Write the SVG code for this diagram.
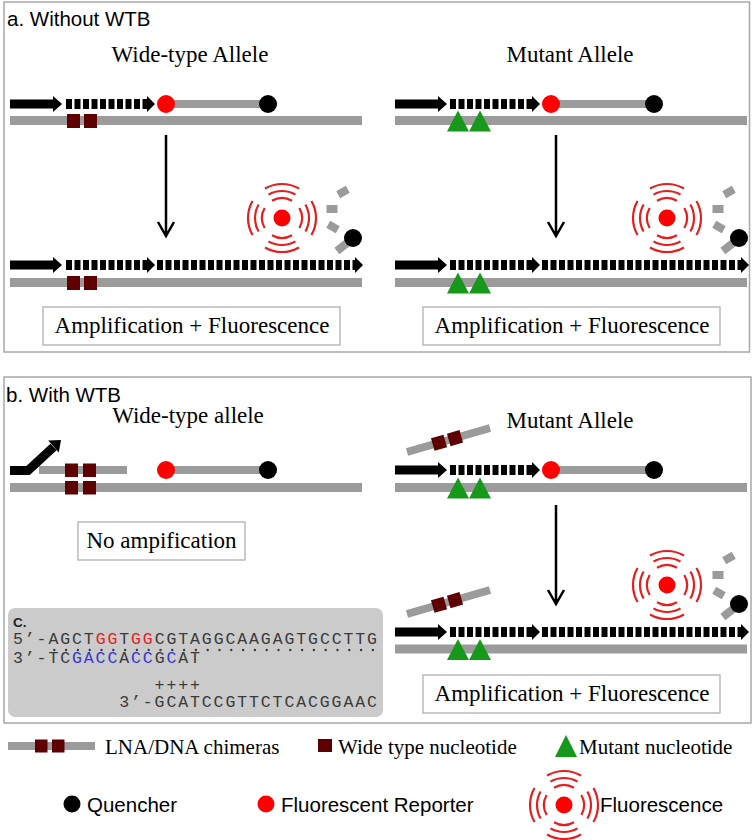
<svg xmlns="http://www.w3.org/2000/svg" xmlns:xlink="http://www.w3.org/1999/xlink" width="754" height="840" viewBox="0 0 754 840">
<style>
.panel{fill:#fff;stroke:#a8a8a8;stroke-width:1.5}
.box{fill:#fff;stroke:#a8a8a8;stroke-width:1.2}
.tmpl{stroke:#9b9b9b;stroke-width:9;fill:none}
.probe{stroke:#9b9b9b;stroke-width:8;fill:none}
.dash{stroke:#000;stroke-width:10;stroke-dasharray:6 2.5;fill:none}
.wt{fill:#5e0000}
.mut{fill:#16991a}
.rep{fill:#ff0000}
.q{fill:#000}
.arc{fill:none;stroke:#e3201f;stroke-width:2.2}
.piece{fill:#9b9b9b}
.vline{stroke:#000;stroke-width:2.5;fill:none}
.serif{font-family:"Liberation Serif","Times New Roman",serif;font-size:23px;fill:#000}
.leg{font-family:"Liberation Serif","Times New Roman",serif;font-size:21px;fill:#000}
.sans{font-family:"Liberation Sans",Arial,sans-serif;font-size:20.5px;fill:#000}
.mono{font-family:"Liberation Mono","Courier New",monospace;font-size:16.5px;letter-spacing:1.9px;fill:#3a3a3a}
.r{fill:#e02424}
.b{fill:#3535d8}
</style>
<defs>
<path id="primer" d="M0,-4.5 H43 V-8 L52,0 L43,8 V4.5 H0 Z" fill="#000"/>
<path id="head" d="M0,-8 L8,0 L0,8 Z" fill="#000"/>
<g id="fluor">
<circle r="8.5" class="rep"/>
<path class="arc" d="M17.32,-10 A20,20 0 0 1 17.32,10 M23.38,-13.5 A27,27 0 0 1 23.38,13.5 M29.44,-17 A34,34 0 0 1 29.44,17"/>
<path class="arc" d="M-17.32,-10 A20,20 0 0 0 -17.32,10 M-23.38,-13.5 A27,27 0 0 0 -23.38,13.5 M-29.44,-17 A34,34 0 0 0 -29.44,17"/>
<path class="arc" d="M-10,-17.32 A20,20 0 0 1 10,-17.32 M-13.5,-23.38 A27,27 0 0 1 13.5,-23.38 M-17,-29.44 A34,34 0 0 1 17,-29.44"/>
<path class="arc" d="M-10,17.32 A20,20 0 0 0 10,17.32 M-13.5,23.38 A27,27 0 0 0 13.5,23.38 M-17,29.44 A34,34 0 0 0 17,29.44"/>
</g>
<g id="broken">
<rect x="-5.5" y="-4" width="11" height="8" class="piece" transform="translate(-10,-46) rotate(-30)"/>
<rect x="-5.5" y="-4" width="11" height="8" class="piece" transform="translate(-21,-29)"/>
<rect x="-5.5" y="-4" width="11" height="8" class="piece" transform="translate(-20,-11) rotate(30)"/>
<rect x="-6.5" y="-4" width="13" height="8" class="piece" transform="translate(-11,9) rotate(-38)"/>
<circle r="9" class="q"/>
</g>
<path id="tri" d="M0,-10 L11,11 L-11,11 Z" class="mut"/>
</defs>

<rect id="panel-a" class="panel" x="4" y="2" width="745.5" height="350"/>
<rect id="panel-b" class="panel" x="4" y="377" width="747" height="346"/>

<text class="sans" x="7" y="26">a. Without WTB</text>
<text class="sans" x="6" y="402">b. With WTB</text>

<!-- a: wild-type allele -->
<g id="a-wt">
<text class="serif" x="190" y="62" text-anchor="middle">Wide-type Allele</text>
<g id="a-wt-before">
<line class="tmpl" x1="10" y1="120.5" x2="362" y2="120.5"/>
<rect class="wt" x="67" y="114" width="13" height="14"/>
<rect class="wt" x="84" y="114" width="13" height="14"/>
<use href="#primer" x="10" y="104"/>
<line class="dash" x1="66" y1="104" x2="147" y2="104"/>
<use href="#head" x="147" y="104"/>
<line class="probe" x1="166" y1="104" x2="268" y2="104"/>
<circle class="rep" cx="166" cy="104" r="9"/>
<circle class="q" cx="268" cy="104" r="9"/>
</g>
<g id="a-wt-after">
<line class="tmpl" x1="10" y1="282.5" x2="362" y2="282.5"/>
<rect class="wt" x="67" y="276" width="13" height="14"/>
<rect class="wt" x="84" y="276" width="13" height="14"/>
<use href="#primer" x="10" y="265"/>
<line class="dash" x1="66" y1="265" x2="147" y2="265"/>
<use href="#head" x="147" y="265"/>
<line class="dash" x1="157" y1="265" x2="355" y2="265"/>
<use href="#head" x="355" y="265"/>
<use href="#fluor" x="282" y="218"/>
<use href="#broken" x="353" y="238"/>
</g>
<g id="a-wt-result">
<rect class="box" x="43" y="307" width="297" height="38"/>
<text class="serif" x="192" y="333" text-anchor="middle">Amplification + Fluorescence</text>
</g>
</g>

<!-- a: mutant allele -->
<g id="a-mut">
<text class="serif" x="570" y="62" text-anchor="middle">Mutant Allele</text>
<g id="a-mut-before">
<line class="tmpl" x1="395" y1="120.5" x2="747" y2="120.5"/>
<use href="#tri" x="458" y="120.5"/>
<use href="#tri" x="480" y="120.5"/>
<use href="#primer" x="395" y="104"/>
<line class="dash" x1="450" y1="104" x2="532" y2="104"/>
<use href="#head" x="532" y="104"/>
<line class="probe" x1="551" y1="104" x2="654" y2="104"/>
<circle class="rep" cx="551" cy="104" r="9"/>
<circle class="q" cx="654" cy="104" r="9"/>
</g>
<g id="a-mut-after">
<line class="tmpl" x1="395" y1="282.5" x2="747" y2="282.5"/>
<use href="#tri" x="458" y="282.5"/>
<use href="#tri" x="480" y="282.5"/>
<use href="#primer" x="395" y="265"/>
<line class="dash" x1="450" y1="265" x2="532" y2="265"/>
<use href="#head" x="532" y="265"/>
<line class="dash" x1="542" y1="265" x2="741" y2="265"/>
<use href="#head" x="741" y="265"/>
<use href="#fluor" x="667" y="218"/>
<use href="#broken" x="739" y="238"/>
</g>
<g id="a-mut-result">
<rect class="box" x="423" y="307" width="297" height="38"/>
<text class="serif" x="572" y="333" text-anchor="middle">Amplification + Fluorescence</text>
</g>
</g>

<!-- b: wild-type allele -->
<g id="b-wt">
<text class="serif" x="188" y="423" text-anchor="middle">Wide-type allele</text>
<line class="tmpl" x1="10" y1="487.5" x2="362" y2="487.5"/>
<line class="probe" x1="39" y1="470" x2="127" y2="470"/>
<rect class="wt" x="65" y="463.5" width="13" height="13.5"/>
<rect class="wt" x="83" y="463.5" width="13" height="13.5"/>
<rect class="wt" x="65" y="481" width="13" height="13.5"/>
<rect class="wt" x="83" y="481" width="13" height="13.5"/>
<polyline points="10,470.5 28,470.5 53.5,447" fill="none" stroke="#000" stroke-width="9" stroke-linejoin="miter"/>
<path d="M61,440 L58.8,452.6 L48.2,440.6 Z" fill="#000"/>
<line class="probe" x1="166" y1="470" x2="268" y2="470"/>
<circle class="rep" cx="166" cy="470" r="9"/>
<circle class="q" cx="268" cy="470" r="9"/>
<g id="b-wt-result">
<rect class="box" x="78" y="522" width="167" height="38"/>
<text class="serif" x="161.5" y="548" text-anchor="middle">No ampification</text>
</g>
</g>

<!-- b: mutant allele -->
<g id="b-mut">
<text class="serif" x="570" y="428" text-anchor="middle">Mutant Allele</text>
<g id="b-mut-before">
<line class="probe" x1="407" y1="452" x2="490" y2="428" stroke-width="9"/>
<rect class="wt" x="-6.5" y="-6.5" width="13" height="13" transform="translate(439,442.7) rotate(-16)"/>
<rect class="wt" x="-6.5" y="-6.5" width="13" height="13" transform="translate(455,438.1) rotate(-16)"/>
<line class="tmpl" x1="395" y1="487.5" x2="747" y2="487.5"/>
<use href="#tri" x="458" y="487.5"/>
<use href="#tri" x="480" y="487.5"/>
<use href="#primer" x="395" y="470"/>
<line class="dash" x1="450" y1="470" x2="532" y2="470"/>
<use href="#head" x="532" y="470"/>
<line class="probe" x1="551" y1="470" x2="654" y2="470"/>
<circle class="rep" cx="551" cy="470" r="9"/>
<circle class="q" cx="654" cy="470" r="9"/>
</g>
<g id="b-mut-after">
<line class="probe" x1="407" y1="614" x2="490" y2="590" stroke-width="9"/>
<rect class="wt" x="-6.5" y="-6.5" width="13" height="13" transform="translate(439,604.7) rotate(-16)"/>
<rect class="wt" x="-6.5" y="-6.5" width="13" height="13" transform="translate(455,600.1) rotate(-16)"/>
<line class="tmpl" x1="395" y1="649" x2="747" y2="649"/>
<use href="#tri" x="458" y="649"/>
<use href="#tri" x="480" y="649"/>
<use href="#primer" x="395" y="632"/>
<line class="dash" x1="450" y1="632" x2="532" y2="632"/>
<use href="#head" x="532" y="632"/>
<line class="dash" x1="542" y1="632" x2="741" y2="632"/>
<use href="#head" x="741" y="632"/>
<use href="#fluor" x="667" y="585"/>
<use href="#broken" x="739" y="604"/>
</g>
<g id="b-mut-result">
<rect class="box" x="423" y="675" width="297" height="38"/>
<text class="serif" x="572" y="701" text-anchor="middle">Amplification + Fluorescence</text>
</g>
</g>

<!-- connectors -->
<g id="connectors">
<path class="vline" d="M166,135 V236 M158,222 L166,236 L174,222"/>
<path class="vline" d="M556,135 V236 M548,222 L556,236 L564,222"/>
<path class="vline" d="M556,505 V604 M548,590 L556,604 L564,590"/>
</g>

<!-- c: sequence -->
<g id="c-seq">
<rect x="8" y="608" width="375" height="109" rx="7" fill="#cbcbcb"/>
<text x="13" y="627" font-family="Liberation Sans,Arial,sans-serif" font-weight="bold" font-size="13.5" fill="#222">C.</text>
<text class="mono" x="13" y="644">5’-AGCT<tspan class="r">GG</tspan>T<tspan class="r">GG</tspan>CGTAGGCAAGAGTGCCTTG</text>
<line x1="54.3" y1="650" x2="373" y2="650" stroke="#3a3a3a" stroke-width="2.4" stroke-linecap="round" stroke-dasharray="0 11.8"/>
<text class="mono" x="13" y="663">3’-TC<tspan class="b">GACC</tspan>A<tspan class="b">CC</tspan>G<tspan class="b">C</tspan>AT</text>
<text class="mono" x="154.6" y="690">++++</text>
<text class="mono" x="119.2" y="707">3’-GCATCCGTTCTCACGGAAC</text>
</g>

<!-- legend -->
<g id="legend">
<line class="probe" x1="8" y1="746" x2="95" y2="746"/>
<rect class="wt" x="35" y="739.5" width="12.5" height="13"/>
<rect class="wt" x="52" y="739.5" width="12.5" height="13"/>
<text class="leg" x="105" y="754">LNA/DNA chimeras</text>
<rect class="wt" x="318" y="739" width="14" height="13"/>
<text class="leg" x="338" y="754">Wide type nucleotide</text>
<path d="M566,735 L577,757 L555,757 Z" class="mut"/>
<text class="leg" x="579" y="754">Mutant nucleotide</text>
<circle class="q" cx="72" cy="804" r="8.5"/>
<text class="sans" x="87" y="812">Quencher</text>
<circle class="rep" cx="266" cy="804" r="8.5"/>
<text class="sans" x="281" y="812">Fluorescent Reporter</text>
<use href="#fluor" x="564" y="805"/>
<text class="sans" x="600" y="812">Fluorescence</text>
</g>
</svg>
